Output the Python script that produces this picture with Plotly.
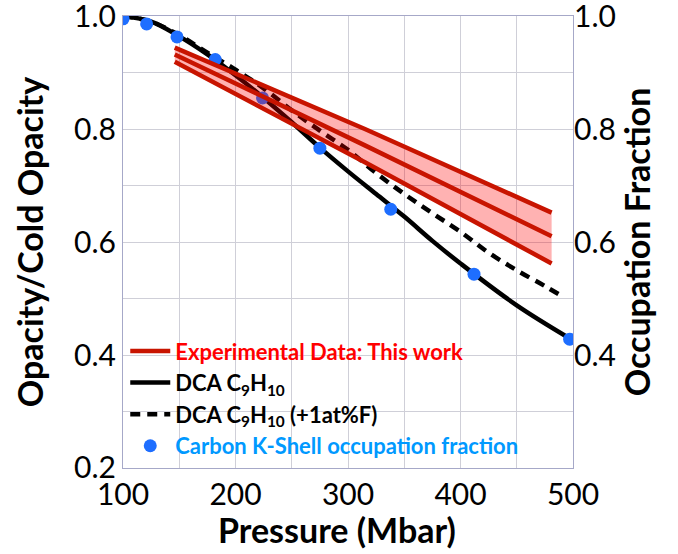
import plotly.graph_objects as go

# ---- data ----
exp_p = [146, 315, 481]
exp_upper = [0.944, 0.800, 0.652]
exp_mid = [0.932, 0.771, 0.610]
exp_lower = [0.919, 0.741, 0.562]

dca_p = [100, 125, 150, 175, 200, 225, 250, 275, 300, 325, 350, 375, 400, 450, 500]
dca_v = [1.0, 0.99, 0.964, 0.932, 0.895, 0.855, 0.812, 0.767, 0.725, 0.685, 0.645, 0.602, 0.562, 0.488, 0.426]

dcaF_p = [100, 125, 150, 175, 200, 225, 250, 275, 300, 325, 350, 375, 400, 425, 450, 475, 492]
dcaF_v = [1.0, 0.99, 0.966, 0.935, 0.905, 0.872, 0.833, 0.797, 0.763, 0.722, 0.685, 0.651, 0.618, 0.581, 0.550, 0.522, 0.502]

ks_p = [100, 121, 148, 182, 224, 275, 338, 412, 497]
ks_v = [0.995, 0.986, 0.963, 0.923, 0.855, 0.766, 0.658, 0.543, 0.428]

x_ticks = [100, 150, 200, 250, 300, 350, 400, 450, 500]
x_text = ["100", "", "200", "", "300", "", "400", "", "500"]
y_ticks = [0.2, 0.3, 0.4, 0.5, 0.6, 0.7, 0.8, 0.9, 1.0]
y_text = ["0.2", "", "0.4", "", "0.6", "", "0.8", "", "1.0"]
y2_ticks = [0.4, 0.6, 0.8, 1.0]
y2_text = ["0.4", "0.6", "0.8", "1.0"]

RED = "rgb(200,20,0)"
FONT = "Lato"

fig = go.Figure()

fig.add_trace(go.Scatter(
    x=dca_p, y=dca_v, mode="lines", line=dict(color="black", width=4.5, shape="spline"),
    name="<b>DCA C<sub>9</sub>H<sub>10</sub></b>", legendrank=2))
fig.add_trace(go.Scatter(
    x=dcaF_p, y=dcaF_v, mode="lines",
    line=dict(color="black", width=4.5, dash="10px,7px", shape="spline"),
    name="<b>DCA C<sub>9</sub>H<sub>10</sub> (+1at%F)</b>", legendrank=3))
fig.add_trace(go.Scatter(
    x=ks_p, y=ks_v, mode="markers",
    marker=dict(color="rgb(30,110,255)", size=13),
    name="<b><span style='color:rgb(0,153,255)'>Carbon K-Shell occupation fraction</span></b>",
    legendrank=4))

# shaded experimental band
fig.add_trace(go.Scatter(
    x=exp_p + exp_p[::-1], y=exp_upper + exp_lower[::-1], mode="lines",
    fill="toself", fillcolor="rgba(255,0,0,0.3)", line=dict(width=0),
    showlegend=False, hoverinfo="skip"))
fig.add_trace(go.Scatter(x=exp_p, y=exp_upper, mode="lines",
                         line=dict(color=RED, width=4.5), showlegend=False))
fig.add_trace(go.Scatter(x=exp_p, y=exp_lower, mode="lines",
                         line=dict(color=RED, width=4.5), showlegend=False))
fig.add_trace(go.Scatter(
    x=exp_p, y=exp_mid, mode="lines", line=dict(color=RED, width=4.5),
    name="<b><span style='color:rgb(255,0,0)'>Experimental Data: This work</span></b>",
    legendrank=1))

# dummy trace to carry the right axis
fig.add_trace(go.Scatter(x=[None], y=[None], yaxis="y2", showlegend=False, hoverinfo="skip"))

GRID = "#CFCFD8"
LINE = "#A6A8C8"
YR = [0.19999, 1.00001]

fig.update_layout(
    width=678, height=554,
    margin=dict(l=123, r=105, t=16, b=86, autoexpand=False),
    paper_bgcolor="white", plot_bgcolor="white",
    font=dict(family=FONT, color="black"),
    showlegend=True,
    legend=dict(x=0.005, y=0.305, xanchor="left", yanchor="top",
                bgcolor="rgba(0,0,0,0)", font=dict(size=22, family=FONT, color="black"),
                tracegroupgap=0, itemwidth=40),
    xaxis=dict(range=[100, 500], tickvals=x_ticks, ticktext=x_text,
               showgrid=True, gridcolor=GRID, gridwidth=1,
               showline=True, linecolor=LINE, linewidth=1, mirror=True,
               zeroline=False, ticks="", tickfont=dict(size=30, family=FONT),
               ticklabeloverflow="allow", automargin=False),
    yaxis=dict(range=YR, tickvals=y_ticks, ticktext=y_text,
               showgrid=True, gridcolor=GRID, gridwidth=1,
               showline=True, linecolor=LINE, linewidth=1, mirror=True,
               zeroline=False, ticks="", tickfont=dict(size=30, family=FONT),
               ticklabeloverflow="allow", automargin=False,
               title=dict(text="<b>Opacity/Cold Opacity</b>", font=dict(size=34, family=FONT), standoff=20)),
    yaxis2=dict(range=YR, overlaying="y", side="right",
                tickvals=y2_ticks, ticktext=y2_text, showgrid=False, zeroline=False,
                showline=False, ticks="", tickfont=dict(size=30, family=FONT),
                ticklabeloverflow="allow", automargin=False,
                title=dict(text="<b>Occupation Fraction</b>", font=dict(size=34, family=FONT), standoff=8)),
    annotations=[dict(text="<b>Pressure (Mbar)</b>", xref="paper", yref="paper",
                      x=0.4756, y=-0.137, xanchor="center", yanchor="middle",
                      showarrow=False, font=dict(size=34, family=FONT, color="black"))],
)

fig.write_html("out.html")
